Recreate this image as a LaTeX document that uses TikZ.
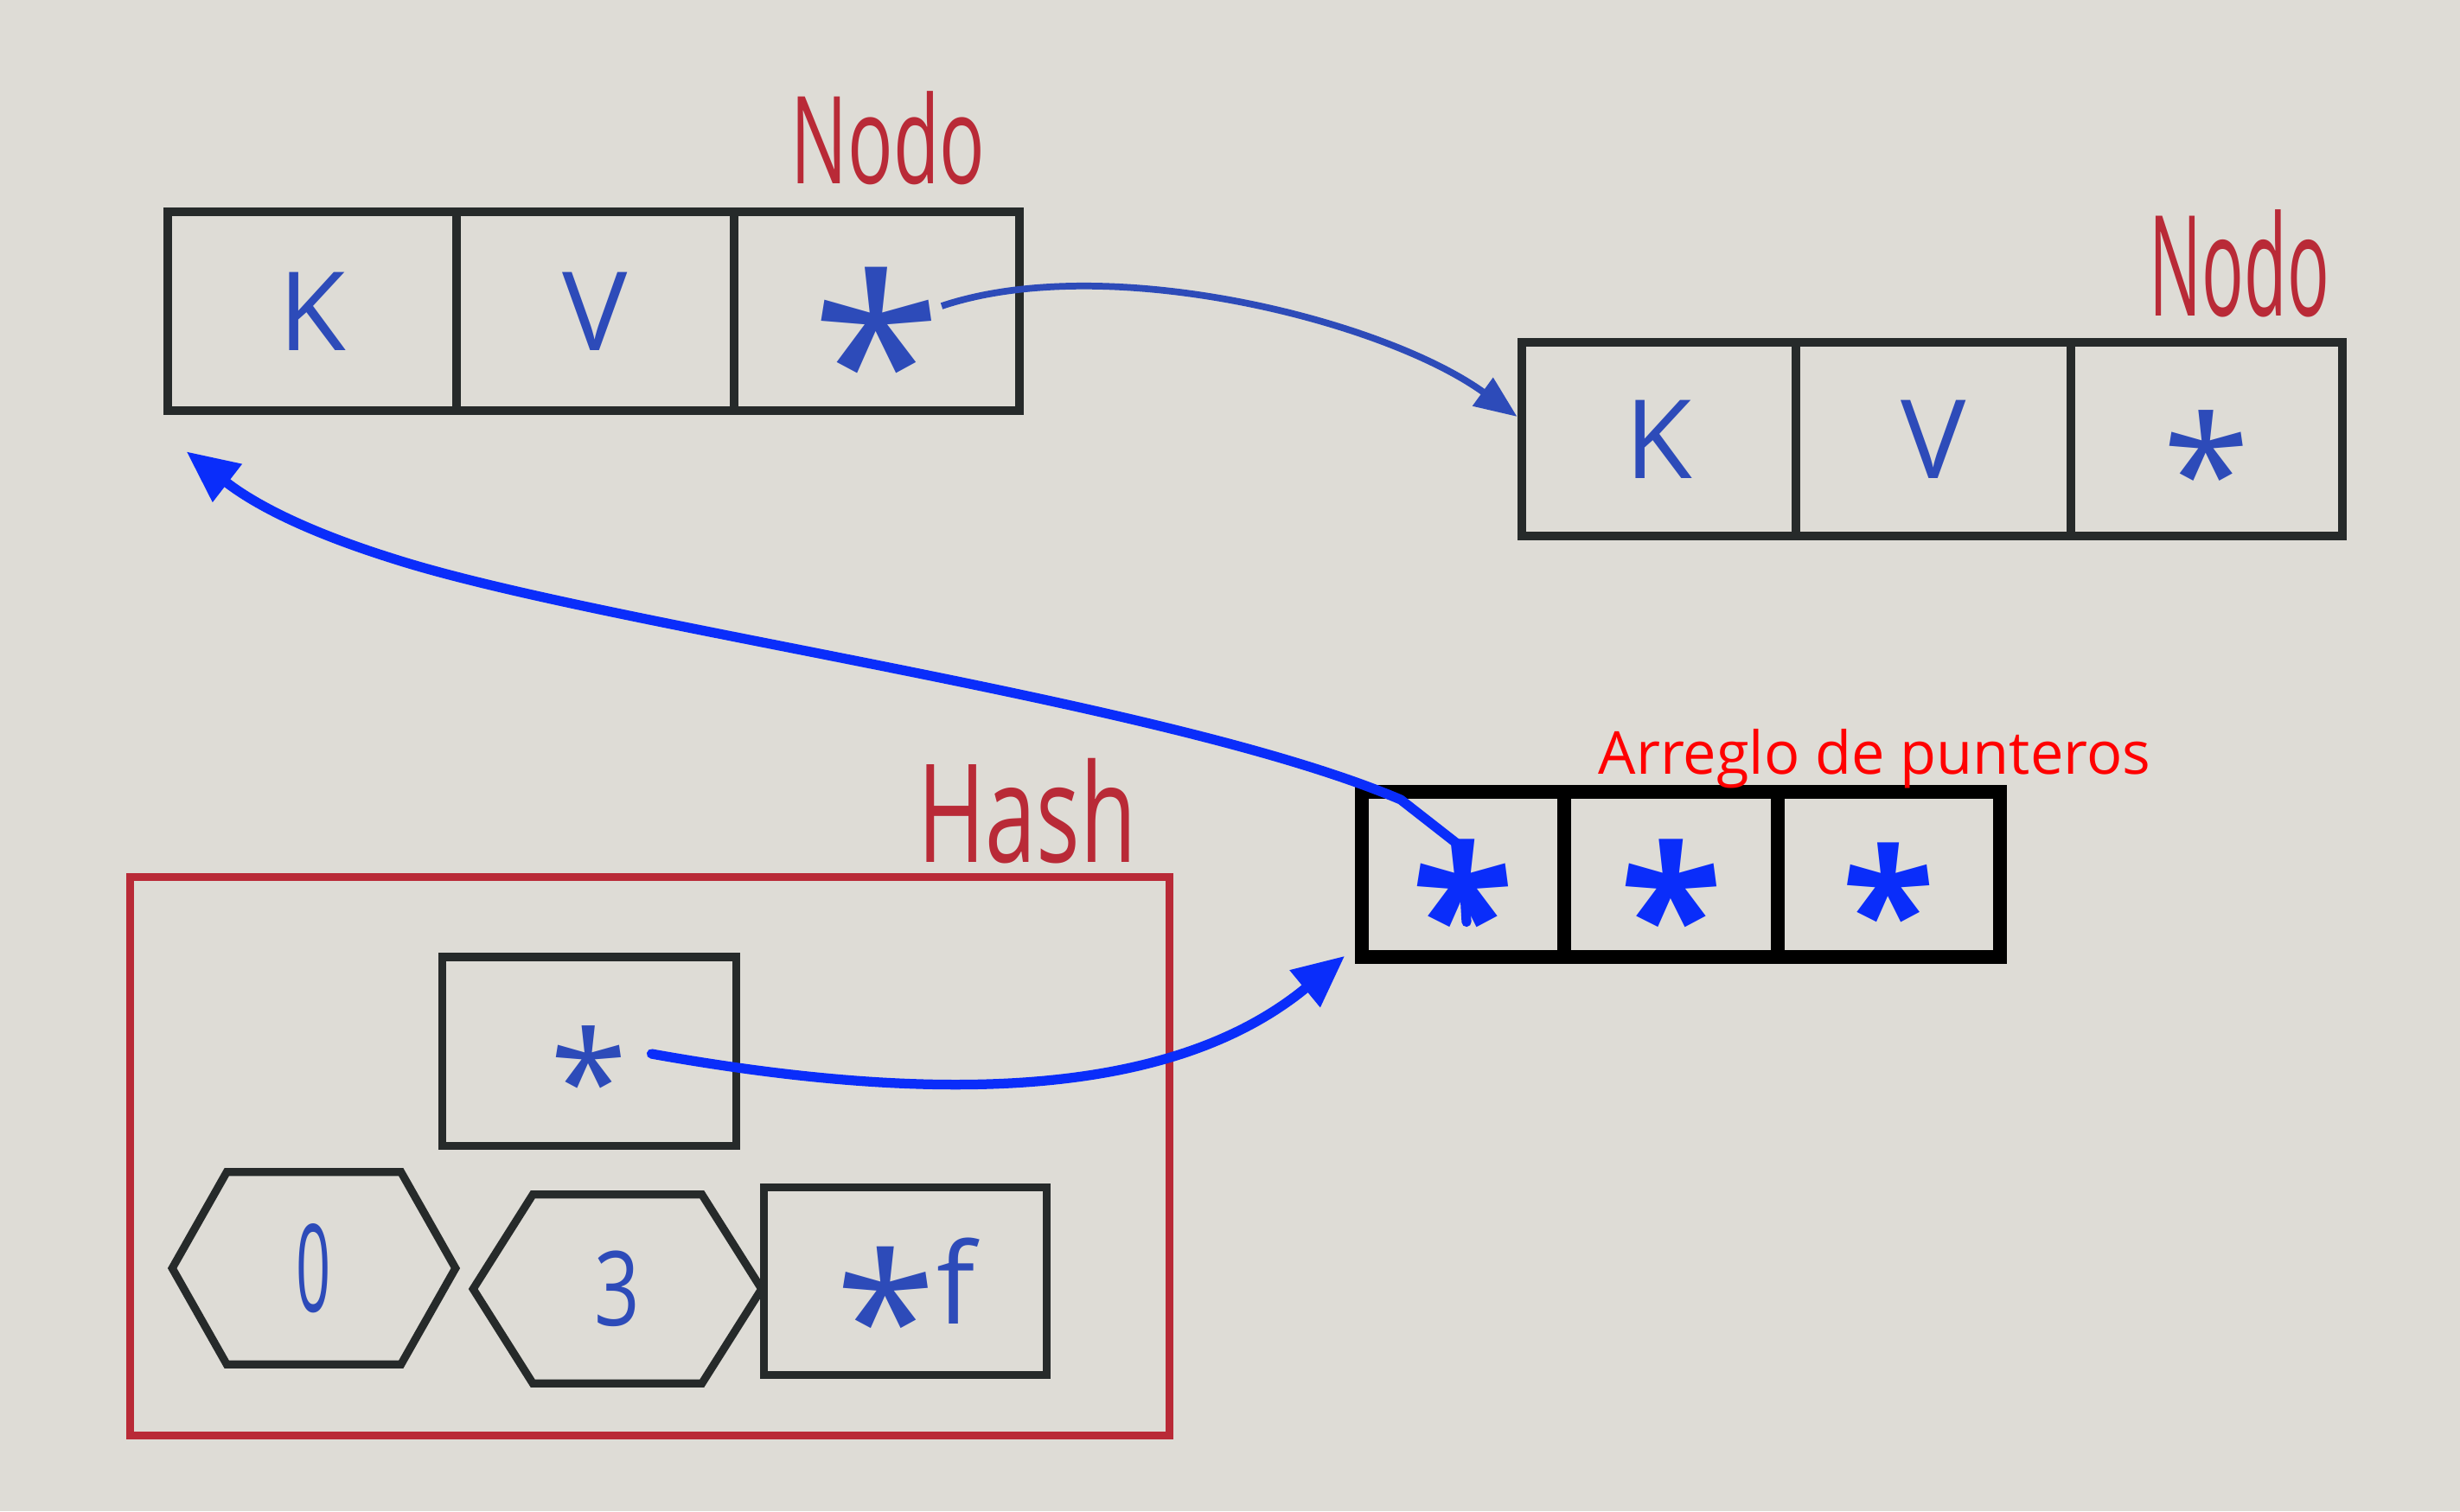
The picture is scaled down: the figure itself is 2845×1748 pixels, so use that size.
\documentclass[tikz,border=0pt]{standalone}
\usepackage{fontspec}
\usepackage{graphicx}
\setmainfont{Open Sans}
\usetikzlibrary{arrows.meta,calc}
\definecolor{paper}{RGB}{222,220,214}
\definecolor{ink}{RGB}{38,42,42}
\definecolor{penred}{RGB}{185,42,55}
\definecolor{penblue}{RGB}{45,75,185}
\definecolor{brightblue}{RGB}{10,45,250}
\definecolor{txtred}{RGB}{255,0,0}
\newcommand{\cstar}[1]{{\fontsize{#1}{#1}\selectfont\raisebox{-0.575em}[0pt][0pt]{*}}}
\tikzset{
  cellA/.style={draw=ink, line width=3pt, inner sep=0pt, text=penblue, font=\fontsize{36}{36}\selectfont},
  arrcell/.style={draw=black, line width=4.4pt, inner sep=0pt, text=brightblue, font=\bfseries, minimum height=1.91cm},
  hashframe/.style={draw=penred, line width=2.6pt, inner sep=0pt},
  thinbox/.style={draw=ink, line width=2.6pt, inner sep=0pt, text=penblue},
  hexbox/.style={inner sep=0pt, text=penblue},
  penlabel/.style={text=penred, inner sep=0pt},
  thinarrow/.style={draw=penblue, line width=2.2pt, -{Triangle[length=14pt,width=11pt]}},
  bigarrow/.style={draw=brightblue, line width=3.2pt, line cap=round, line join=round, -{Triangle[length=17pt,width=15pt]}},
}
\begin{document}
\begin{tikzpicture}[x=0.01cm, y=-0.01cm]
\path[fill=paper, use as bounding box] (0,0) rectangle (2845,1748);

% top-left node
\node[cellA, minimum width=3.34cm, minimum height=2.30cm] (tl1) at (361,360) {K};
\node[cellA, minimum width=3.21cm, minimum height=2.30cm] (tl2) at (688.5,360) {V};
\node[cellA, minimum width=3.30cm, minimum height=2.30cm] (tl3) at (1014,360) {\cstar{78pt}};
\node[penlabel, font=\fontsize{40}{40}\selectfont] (lab1) at (1027,160) {\scalebox{0.62}[1]{Nodo}};

% top-right node
\node[cellA, minimum width=3.17cm, minimum height=2.24cm] (tr1) at (1918.5,508) {K};
\node[cellA, minimum width=3.18cm, minimum height=2.24cm] (tr2) at (2236,508) {V};
\node[cellA, minimum width=3.14cm, minimum height=2.24cm] (tr3) at (2552,508) {\cstar{52pt}};
\node[penlabel, font=\fontsize{46}{46}\selectfont] (lab2) at (2590,305) {\scalebox{0.5}[1]{Nodo}};

% array of pointers
\node[arrcell, minimum width=2.34cm] (a1) at (1692,1011.5) {\cstar{62pt}};
\node[arrcell, minimum width=2.47cm] (a2) at (1932.5,1011.5) {\cstar{62pt}};
\node[arrcell, minimum width=2.57cm] (a3) at (2184.5,1011.5) {\cstar{56pt}};
\node[text=txtred, inner sep=0pt, anchor=base, font=\fontsize{19.5}{19.5}\selectfont] (lab3) at (2168,895) {Arreglo de punteros};

% hash
\node[hashframe, minimum width=12.01cm, minimum height=6.45cm] (hash) at (751.5,1337.5) {};
\node[penlabel, font=\fontsize{45}{45}\selectfont] (lab4) at (1188,938) {\scalebox{0.67}[1]{Hash}};
\node[thinbox, minimum width=3.39cm, minimum height=2.18cm] (hp) at (681.5,1216) {\cstar{46pt}};

\node[hexbox, minimum width=3.26cm, minimum height=2.21cm, font=\fontsize{40}{40}\selectfont] (h0) at (363,1467) {\scalebox{0.5}[1]{0}};
\draw[thinbox] (h0.west) -- ([xshift=0.63cm]h0.north west) -- ([xshift=-0.63cm]h0.north east) -- (h0.east) -- ([xshift=-0.63cm]h0.south east) -- ([xshift=0.63cm]h0.south west) -- cycle;
\node[hexbox, minimum width=3.32cm, minimum height=2.17cm, font=\fontsize{34}{34}\selectfont] (h3) at (714,1491) {\scalebox{0.77}[1]{3}};
\draw[thinbox] (h3.west) -- ([xshift=0.69cm]h3.north west) -- ([xshift=-0.69cm]h3.north east) -- (h3.east) -- ([xshift=-0.69cm]h3.south east) -- ([xshift=0.69cm]h3.south west) -- cycle;
\node[thinbox, minimum width=3.26cm, minimum height=2.17cm, font=\fontsize{37}{37}\selectfont] (sf) at (1047,1482) {{\fontsize{60}{60}\selectfont\raisebox{-20pt}[0pt][0pt]{*}}f};

% connectors
\draw[thinarrow] ($(tl3.center)+(75,-6)$) .. controls (1280,290) and (1600,370) .. ($(tr1.west)+(0,-26)$);
\draw[bigarrow] ($(a1.center)+(4,55)$) -- ($(a1.center)+(-1,-31)$) -- (1620,925) .. controls (1350,810) and (700,725) .. (454,646) .. controls (330,607) and (280,572) .. ($(tl1.south west)+(27,42)$);
\draw[bigarrow] ($(hp.center)+(72,3)$) .. controls (1150,1290) and (1380,1250) .. ($(a1.south west)+(-12,-9)$);
\end{tikzpicture}
\end{document}
